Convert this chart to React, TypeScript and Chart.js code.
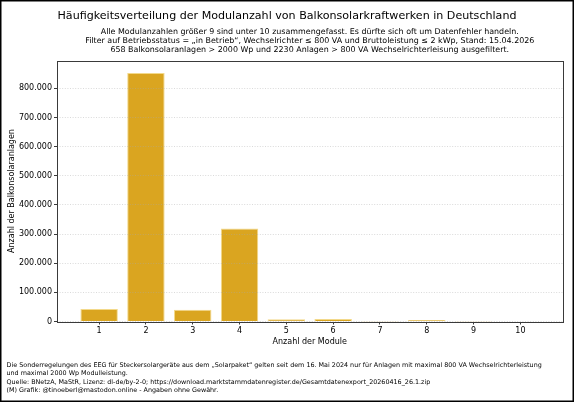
import React, { useEffect, useRef } from "react";
import { Chart, registerables } from "chart.js";

Chart.register(...registerables);

const categories: number[] = [1, 2, 3, 4, 5, 6, 7, 8, 9, 10];
const counts: number[] = [43000, 853000, 40000, 319000, 7500, 9000, 300, 5000, 200, 1500];
const yTicks: number[] = [0, 100000, 200000, 300000, 400000, 500000, 600000, 700000, 800000];

const titleText = "Häufigkeitsverteilung der Modulanzahl von Balkonsolarkraftwerken in Deutschland";
const subtitleLines: string[] = [
  "Alle Modulanzahlen größer 9 sind unter 10 zusammengefasst. Es dürfte sich oft um Datenfehler handeln.",
  "Filter auf Betriebsstatus = „in Betrieb“, Wechselrichter ≤ 800 VA und Bruttoleistung ≤ 2 kWp, Stand: 15.04.2026",
  "658 Balkonsolaranlagen > 2000 Wp und 2230 Anlagen > 800 VA Wechselrichterleisung ausgefiltert.",
];
const footerLines: string[] = [
  "Die Sonderregelungen des EEG für Steckersolargeräte aus dem „Solarpaket“ gelten seit dem 16. Mai 2024 nur für Anlagen mit maximal 800 VA Wechselrichterleistung",
  "und maximal 2000 Wp Modulleistung.",
  "Quelle: BNetzA, MaStR, Lizenz: dl-de/by-2-0; https://download.marktstammdatenregister.de/Gesamtdatenexport_20260416_26.1.zip",
  "(M) Grafik: @tinoeberl@mastodon.online - Angaben ohne Gewähr.",
];
const xAxisTitle = "Anzahl der Module";
const yAxisTitle = "Anzahl der Balkonsolaranlagen";

const FONT = '"DejaVu Sans", sans-serif';

function fmtDe(v: number): string {
  return String(Math.round(v)).replace(/\B(?=(\d{3})+(?!\d))/g, ".");
}

export default function App() {
  const ref = useRef<HTMLCanvasElement | null>(null);

  useEffect(() => {
    document.body.style.margin = "0";
    const canvas = ref.current;
    if (!canvas) return;

    const textPlugin = {
      id: "texts",
      afterDraw(chart: any) {
        const { ctx, chartArea } = chart;
        ctx.save();
        // frame around axes
        ctx.strokeStyle = "#3a3a3a";
        ctx.lineWidth = 1;
        ctx.strokeRect(
          Math.round(chartArea.left) + 0.5,
          Math.round(chartArea.top) + 0.5,
          Math.round(chartArea.right - chartArea.left),
          Math.round(chartArea.bottom - chartArea.top)
        );
        // title
        ctx.fillStyle = "#000";
        ctx.textBaseline = "middle";
        ctx.textAlign = "center";
        ctx.font = `11.1px ${FONT}`;
        ctx.fillText(titleText, 287, 16);
        // subtitle
        ctx.font = `7.95px ${FONT}`;
        const cx = (chartArea.left + chartArea.right) / 2;
        subtitleLines.forEach((l, i) => ctx.fillText(l, cx, 31.5 + i * 9.4));
        // footer
        ctx.textAlign = "left";
        ctx.font = `6.4px ${FONT}`;
        footerLines.forEach((l, i) => ctx.fillText(l, 6.5, 365.5 + i * 8.2));
        // figure border
        ctx.strokeStyle = "#000";
        ctx.lineWidth = 3;
        ctx.strokeRect(0, 0, chart.width, chart.height);
        ctx.restore();
      },
    };

    const chart = new Chart(canvas, {
      type: "bar",
      data: {
        datasets: [
          {
            data: categories.map((c, i) => ({ x: c, y: counts[i] })),
            backgroundColor: "#DAA520",
            borderColor: "#F3D98A",
            borderWidth: 1,
            barPercentage: 0.8,
            categoryPercentage: 1.0,
          },
        ],
      },
      options: {
        animation: false,
        responsive: false,
        devicePixelRatio: 1,
        layout: { padding: { left: 0, top: 60.5, right: 11.5, bottom: 0 } },
        plugins: {
          legend: { display: false },
          title: { display: false },
          tooltip: { enabled: false },
        },
        scales: {
          x: {
            type: "linear",
            offset: false,
            min: 0.1,
            max: 10.9,
            afterFit: (s: any) => {
              s.height = 80.5;
            },
            afterBuildTicks: (s: any) => {
              s.ticks = categories.map((v) => ({ value: v }));
            },
            grid: {
              offset: false,
              drawOnChartArea: false,
              drawTicks: true,
              tickLength: 3,
              tickColor: "#3a3a3a",
              tickWidth: 1,
            },
            border: { display: false },
            ticks: {
              color: "#000",
              font: { family: FONT, size: 8 },
              padding: 1.5,
              maxRotation: 0,
              autoSkip: false,
              callback: (v: any) => String(v),
            },
            title: {
              display: true,
              text: xAxisTitle,
              color: "#000",
              font: { family: FONT, size: 8 },
              padding: { top: 0, bottom: 55.2 },
            },
          },
          y: {
            min: 0,
            max: Math.max(...counts) * 1.05,
            afterFit: (s: any) => {
              s.width = 57;
            },
            afterBuildTicks: (s: any) => {
              s.ticks = yTicks.map((v) => ({ value: v }));
            },
            grid: {
              drawOnChartArea: true,
              drawTicks: true,
              tickLength: 3,
              color: "rgba(170,170,170,0.55)",
              lineWidth: 0.8,
              tickColor: "#3a3a3a",
              tickWidth: 1,
              tickBorderDash: [],
              z: 1,
            },
            border: { display: false, dash: [1, 1.6] },
            ticks: {
              color: "#000",
              font: { family: FONT, size: 8 },
              padding: 2,
              autoSkip: false,
              callback: (v: any) => fmtDe(Number(v)),
            },
            title: {
              display: true,
              text: yAxisTitle,
              color: "#000",
              font: { family: FONT, size: 8 },
              padding: { top: 6.9, bottom: 0 },
            },
          },
        },
      },
      plugins: [textPlugin],
    } as any);

    return () => chart.destroy();
  }, []);

  return (
    <canvas
      ref={ref}
      width={574}
      height={402}
      style={{ display: "block", width: 574, height: 402 }}
    />
  );
}
